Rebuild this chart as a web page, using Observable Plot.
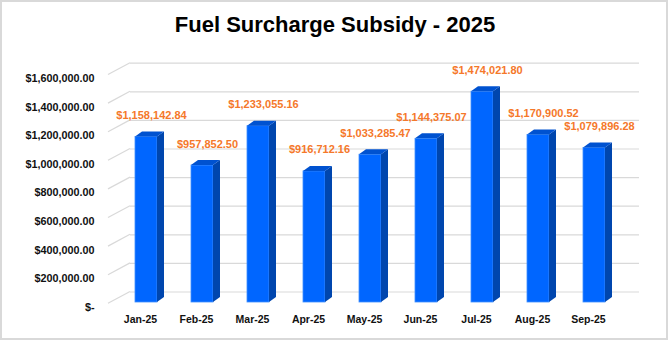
<!DOCTYPE html>
<html><head><meta charset="utf-8">
<script src="https://cdn.jsdelivr.net/npm/d3@7"></script>
<script src="https://cdn.jsdelivr.net/npm/@observablehq/plot@0.6"></script>
<style>
html,body{margin:0;padding:0;background:#fff;}
#wrap{position:relative;width:670px;height:343px;overflow:hidden;background:#fff;font-family:"Liberation Sans",Arial,sans-serif;}
#frame{position:absolute;left:0;top:0;width:668px;height:340px;box-sizing:border-box;border:2px solid #d9d9d9;pointer-events:none;}
#title{box-sizing:border-box;height:48px;padding-top:14px;line-height:22px;font-size:22px;font-weight:bold;text-align:center;color:#000;}
#chart svg{display:block;}
</style></head>
<body><div id="wrap"><div id="title">Fuel Surcharge Subsidy - 2025</div><div id="chart"></div><div id="frame"></div></div>
<script>
const months = ["Jan-25","Feb-25","Mar-25","Apr-25","May-25","Jun-25","Jul-25","Aug-25","Sep-25"];
const values = [1158142.84, 957852.50, 1233055.16, 916712.16, 1033285.47, 1144375.07, 1474021.80, 1170900.52, 1079896.28];
const tickValues = [0, 200000, 400000, 600000, 800000, 1000000, 1200000, 1400000, 1600000];
const tickLabels = ["$-", "$200,000.00", "$400,000.00", "$600,000.00", "$800,000.00", "$1,000,000.00", "$1,200,000.00", "$1,400,000.00", "$1,600,000.00"];

const data = months.map((m, i) => ({month: m, value: values[i]}));
const fmt = d3.format("$,.2f");

const DX = 7, DY = 5;      // bar depth (perspective)
const WX = 22, WY = 10.5;  // wall / floor depth
const FRONT = "#0066ff", SIDE = "#0046ae", TOP = "#0052d0", GRID = "#d9d9d9", ORANGE = "#f5782a";

function wallDiagonals(index, scales, values, dims) {
  const y = scales.y;
  const g = d3.create("svg:g").attr("stroke", GRID).attr("stroke-width", 1.2).attr("fill", "none");
  for (const t of tickValues) {
    g.append("line")
      .attr("x1", dims.marginLeft - WX).attr("y1", y(t) + 1.3)
      .attr("x2", dims.marginLeft).attr("y2", y(t) - WY);
  }
  return g.node();
}

function barDepth(index, scales, values, dims) {
  const sx = scales.x, sy = scales.y;
  const bw = typeof sx.bandwidth === "function" ? sx.bandwidth() : sx.bandwidth;
  const g = d3.create("svg:g");
  for (const d of data) {
    const x0 = sx(d.month), x1 = x0 + bw, y0 = sy(0), y1 = sy(d.value);
    g.append("path").attr("fill", SIDE)
      .attr("d", `M${x1},${y1}L${x1 + DX},${y1 - DY}L${x1 + DX},${y0 - DY}L${x1},${y0}Z`);
    g.append("path").attr("fill", TOP)
      .attr("d", `M${x0},${y1}L${x0 + DX},${y1 - DY}L${x1 + DX},${y1 - DY}L${x1},${y1}Z`);
  }
  return g.node();
}

const chart = Plot.plot({
  width: 670, height: 295,
  marginLeft: 130, marginRight: 31, marginTop: 0, marginBottom: 30,
  x: {type: "band", domain: months, range: [114, 626], paddingInner: 0.6, paddingOuter: 0.3, axis: null},
  y: {domain: [0, 1600000], range: [254, 25.2], axis: null},
  style: {fontFamily: '"Liberation Sans", Arial, sans-serif', background: "transparent", overflow: "visible"},
  marks: [
    Plot.ruleY(tickValues, {y: d => d, dy: -WY, stroke: GRID, strokeWidth: 1.2}),
    wallDiagonals,
    Plot.barY(data, {x: "month", y: "value", fill: FRONT, stroke: "#4090ff", strokeWidth: 0.8}),
    barDepth,
    Plot.text(data, {x: "month", y: "value", text: d => fmt(d.value), dx: 5, dy: -21.5,
      fill: ORANGE, fontWeight: "bold", fontSize: 11}),
    Plot.text(tickValues, {y: d => d, text: (d, i) => tickLabels[i], frameAnchor: "left",
      dx: -36, dy: 4.8, textAnchor: "end", fontWeight: "bold", fontSize: 10.8, fill: "#111"}),
    Plot.text(months, {x: d => d, text: d => d, frameAnchor: "bottom", dx: -6, dy: 9,
      fontWeight: "bold", fontSize: 10.5, fill: "#111"})
  ]
});
document.getElementById("chart").appendChild(chart);
</script>
</body></html>
